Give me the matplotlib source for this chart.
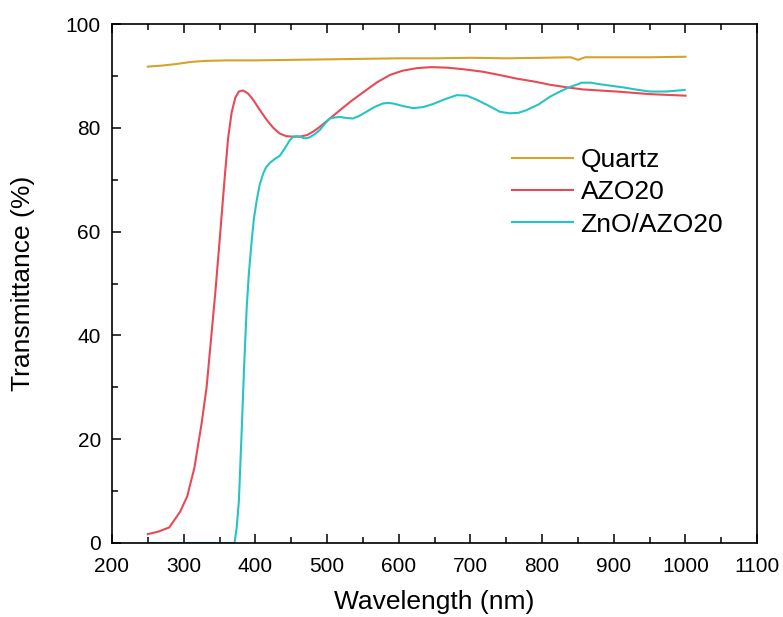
import matplotlib.pyplot as plt
from matplotlib.ticker import MultipleLocator

plt.rcParams['font.family'] = ['Liberation Sans', 'DejaVu Sans']

# Quartz substrate
quartz_wl = [250, 270, 290, 310, 330, 360, 400, 450, 500, 550, 600, 650, 700,
             750, 800, 840, 850, 860, 900, 950, 1000]
quartz_t = [91.8, 92.0, 92.3, 92.7, 92.9, 93.0, 93.0, 93.1, 93.2, 93.3, 93.4,
            93.4, 93.5, 93.4, 93.5, 93.6, 93.1, 93.6, 93.6, 93.6, 93.7]

# AZO20
azo_wl = [250, 265, 280, 295, 305, 315, 325, 332, 338, 344, 350, 357, 362, 367,
          372, 377, 383, 390, 397, 406, 416, 425, 434, 443, 453, 462, 472, 481,
          490, 504, 518, 535, 555, 570, 588, 605, 625, 645, 667, 690, 718, 740,
          764, 790, 811, 835, 857, 880, 904, 950, 1000]
azo_t = [1.7, 2.2, 3.0, 6.0, 9.0, 14.5, 23, 30, 39, 48, 58, 70, 78, 83,
         85.8, 87.0, 87.2, 86.6, 85.4, 83.5, 81.5, 80.0, 78.9, 78.4, 78.3, 78.3,
         78.6, 79.3, 80.2, 81.8, 83.4, 85.3, 87.3, 88.8, 90.2, 91.0, 91.5, 91.7,
         91.6, 91.3, 90.8, 90.2, 89.5, 88.9, 88.3, 87.8, 87.4, 87.2, 87.0, 86.5,
         86.2]

# ZnO/AZO20
zno_wl = [250, 300, 350, 371, 374, 377, 381, 384.5, 388, 391, 395, 398, 402,
          406, 411, 415, 420, 427, 434, 441, 448, 453, 458, 463, 467, 472, 476,
          483, 490, 497, 504, 511, 518, 527, 536, 545, 555, 566, 578, 585, 592,
          606, 620, 634, 648, 664, 681, 695, 709, 725, 741, 755, 767, 778, 795,
          811, 825, 839, 848, 855, 868, 881, 897, 913, 930, 950, 973, 999]
zno_t = [0, 0, 0, 0, 3, 8, 21.8, 34.6, 45.5, 52, 58.4, 62.5, 66.1,
         69, 71.2, 72.4, 73.2, 74.0, 74.6, 76.0, 77.6, 78.3, 78.4, 78.3, 78.0,
         78.0, 78.2, 78.8, 79.6, 80.8, 81.8, 82.0, 82.1, 81.9, 81.8, 82.3, 83.1,
         84.0, 84.7, 84.8, 84.7, 84.2, 83.8, 84.0, 84.6, 85.5, 86.3, 86.2, 85.4,
         84.3, 83.1, 82.8, 82.9, 83.4, 84.5, 86.0, 87.0, 87.9, 88.3, 88.7, 88.7,
         88.4, 88.1, 87.8, 87.4, 87.0, 87.0, 87.3]

fig = plt.figure(figsize=(7.83, 6.17), dpi=100)
ax = fig.add_axes([0.143, 0.120, 0.824, 0.841])

ax.plot(quartz_wl, quartz_t, color='#D4A42A', lw=1.5, label='Quartz')
ax.plot(azo_wl, azo_t, color='#E64B55', lw=1.5, label='AZO20')
ax.plot(zno_wl, zno_t, color='#27C4C6', lw=1.5, label='ZnO/AZO20')

ax.set_xlim(200, 1100)
ax.set_ylim(0, 100)
ax.xaxis.set_major_locator(MultipleLocator(100))
ax.xaxis.set_minor_locator(MultipleLocator(50))
ax.yaxis.set_major_locator(MultipleLocator(20))
ax.yaxis.set_minor_locator(MultipleLocator(10))
ax.tick_params(which='both', direction='in', top=True, right=False,
               width=1.1, labelsize=15)
ax.tick_params(which='major', length=6.5)
ax.tick_params(which='minor', length=4)
ax.tick_params(axis='x', pad=10)
ax.tick_params(axis='y', pad=8)
for s in ax.spines.values():
    s.set_linewidth(1.2)

ax.set_xlabel('Wavelength (nm)', fontsize=19, labelpad=10)
ax.set_ylabel('Transmittance (%)', fontsize=19, labelpad=22)

ax.legend(loc='center left', bbox_to_anchor=(0.62, 0.676), frameon=False,
          fontsize=19, handlelength=2.3, handletextpad=0.3, labelspacing=0.32,
          borderpad=0, borderaxespad=0)

fig.savefig('out.png', dpi=100)
